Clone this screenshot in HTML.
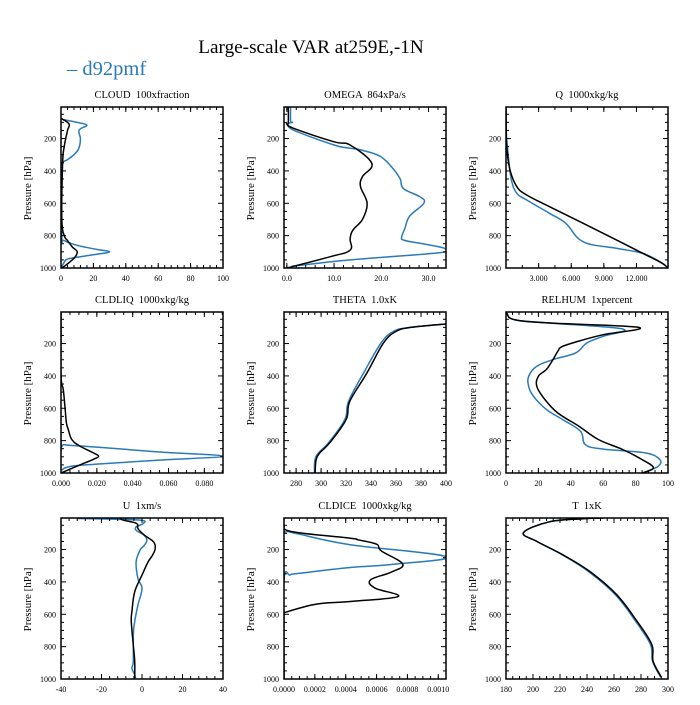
<!DOCTYPE html>
<html><head><meta charset="utf-8">
<style>
html,body{margin:0;padding:0;background:#fff;}
svg text{font-family:"Liberation Serif",serif;white-space:pre;}
</style></head>
<body>
<svg id="chart" width="700" height="700" viewBox="0 0 700 700" xmlns="http://www.w3.org/2000/svg" xml:space="preserve">
<rect x="0" y="0" width="700" height="700" fill="#fff"/>
<defs id="defs"></defs>
<text x="311" y="53" font-size="19.2" text-anchor="middle" fill="#000">Large-scale VAR at259E,-1N</text>
<text x="67" y="75" font-size="20.5" fill="#2a7ab8">– d92pmf</text>
<g id="panels"></g>
</svg>
<script>
// ---- data (pressure levels [hPa] and values) ----
const cloudBlueP=[80,100,117,140,160,200,260,300,330,350,400,800,830,860,885,900,915,930,945,965,1000];
const cloudBlueV=[0,10,16,12,11,12,11,8,4,1,0.5,0.5,2,10,22,30,22,12,4,2,0];
const cloudBlackP=[75,110,150,250,350,700,800,830,870,900,940,990,1000];
const cloudBlackV=[0,5,4,2,1,0.5,2,4,7,10,8,2,0];

const omegaBlueP=[5,90,100,110,150,240,260,270,310,390,450,510,560,600,680,755,810,830,855,880,905,950,990];
const omegaBlueV=[0.8,0.8,1.2,0.3,1.6,10,13.4,15.6,19.8,22.6,24,24.7,28.2,29,26,25,24.3,25,29.7,33.5,32.5,13.4,1];
const omegaBlackP=[5,100,110,137,220,240,353,436,497,600,700,765,820,890,930,1000];
const omegaBlackV=[0.3,0.3,0,1.5,10,13.4,18,16,15.6,17,16,14,13.4,13.4,9.2,0];

const qBlueP=[5,150,300,456,539,580,662,724,838,879,910,968,1000];
const qBlueV=[0,0.02,0.2,0.5,1.0,1.9,4.0,5.5,7.1,10.2,12.6,14.3,14.9];
const qBlackP=[5,150,250,395,498,549,621,724,828,910,968,1000];
const qBlackV=[0,0.02,0.06,0.37,1.0,1.9,4.0,7.1,10.2,12.6,14.3,14.9];

const liqBlueP=[5,810,825,840,870,896,920,945,960,985,1000];
const liqBlueV=[0,0,0.002,0.02,0.055,0.09,0.055,0.02,0.005,0,0];
const liqBlackP=[5,392,485,588,690,732,793,834,875,896,916,937,968,995,1000];
const liqBlackV=[0,0,0.0013,0.0022,0.003,0.0041,0.006,0.0106,0.018,0.021,0.018,0.0134,0.0067,0.001,0];

const thetaBlueP=[79,100,125,196,382,557,670,813,875,920,1000];
const thetaBlueV=[400,371,358,348,334,322,319,306,298,295,294.8];
const thetaBlackP=[79,100,125,196,382,557,670,813,875,920,1000];
const thetaBlackV=[400,372,360,350,336.7,323,320,307,299,296,295.2];

const rhBlueP=[11,52,73,110,155,196,258,299,340,402,464,526,608,670,742,825,852,876,917,958,990];
const rhBlueV=[0.5,5,27,72,60,50,43,29,19,14,14,17,25,35,46,49,60,86,95,94,87];
const rhBlackP=[11,52,73,100,145,176,217,248,299,360,402,464,546,629,711,793,855,917,968,1000];
const rhBlackV=[0.5,5,27,82,60,48,35,32,29,25,20,19,24,32,45,57,72,84,91,84];

const uBlueP=[8,12,20,40,60,81,111,142,173,204,276,379,440,543,646,728,892,933,974,995];
const uBlueV=[-32,-15,0,0.5,-2.9,-2.9,1,2.4,1.2,-1,-2.9,-2,0,-2,-3.6,-4.3,-4.3,-5,-3.6,-3.2];
const uBlackP=[8,19,39,70,111,152,194,235,276,358,461,584,646,790,892,995];
const uBlackV=[-10.9,-9,-2.6,-2,1.2,5.7,6.5,5.2,3,0,-3.6,-5,-5.3,-4.3,-3.6,-3.6];

const iceBlueP=[5,85,89,105,170,244,291,311,347,357,398,1000];
const iceBlueV=[0,0,0.00003,0.0001,0.00043,0.00105,0.00071,0.00043,0.0001,0.00004,0,0];
const iceBlackP=[5,48,89,130,140,167,208,290,341,388,438,490,521,537,588,600,1000];
const iceBlackV=[0,0,0.00005,0.00043,0.00048,0.0006,0.00063,0.00077,0.00069,0.00056,0.00059,0.00074,0.00043,0.00021,0.00001,0,0];

const tBlueP=[5,10,28,95,150,232,335,479,643,787,890,988];
const tBlueV=[252,237,212.5,193,203,221.5,241,261,276,287,288.5,294.5];
const tBlackP=[5,10,28,95,150,232,335,479,643,787,890,988];
const tBlackV=[252,237,212.5,193,203,222,242,262,277,288,289,295];

// x-axis settings per panel: tick values, tick labels
const cloudTicks=[0,20,40,60,80,100], cloudLabels=["0","20","40","60","80","100"];
const omegaTicks=[0,10,20,30], omegaLabels=["0.0","10.0","20.0","30.0"];
const qTicks=[3,6,9,12], qLabels=["3.000","6.000","9.000","12.000"];
const liqTicks=[0,0.02,0.04,0.06,0.08], liqLabels=["0.000","0.020","0.040","0.060","0.080"];
const thetaTicks=[280,300,320,340,360,380,400], thetaLabels=["280","300","320","340","360","380","400"];
const rhTicks=[0,20,40,60,80,100], rhLabels=["0","20","40","60","80","100"];
const uTicks=[-40,-20,0,20,40], uLabels=["-40","-20","0","20","40"];
const iceTicks=[0,0.0002,0.0004,0.0006,0.0008,0.0010], iceLabels=["0.0000","0.0002","0.0004","0.0006","0.0008","0.0010"];
const tTicks=[180,200,220,240,260,280,300], tLabels=["180","200","220","240","260","280","300"];

const panels=[
 {name:"cloud",title:"CLOUD  100xfraction",col:0,row:0,xmin:0,xmax:100,ticks:cloudTicks,labels:cloudLabels,minor:4,bp:cloudBlueP,bv:cloudBlueV,kp:cloudBlackP,kv:cloudBlackV},
 {name:"omega",title:"OMEGA  864xPa/s",col:1,row:0,xmin:-0.6,xmax:33.7,ticks:omegaTicks,labels:omegaLabels,minor:2,bp:omegaBlueP,bv:omegaBlueV,kp:omegaBlackP,kv:omegaBlackV},
 {name:"q",title:"Q  1000xkg/kg",col:2,row:0,xmin:0,xmax:14.9,ticks:qTicks,labels:qLabels,minor:1.5,bp:qBlueP,bv:qBlueV,kp:qBlackP,kv:qBlackV},
 {name:"cldliq",title:"CLDLIQ  1000xkg/kg",col:0,row:1,xmin:0,xmax:0.0904,ticks:liqTicks,labels:liqLabels,minor:0.005,bp:liqBlueP,bv:liqBlueV,kp:liqBlackP,kv:liqBlackV},
 {name:"theta",title:"THETA  1.0xK",col:1,row:1,xmin:270.3,xmax:400,ticks:thetaTicks,labels:thetaLabels,minor:5,bp:thetaBlueP,bv:thetaBlueV,kp:thetaBlackP,kv:thetaBlackV},
 {name:"relhum",title:"RELHUM  1xpercent",col:2,row:1,xmin:0,xmax:100,ticks:rhTicks,labels:rhLabels,minor:4,bp:rhBlueP,bv:rhBlueV,kp:rhBlackP,kv:rhBlackV},
 {name:"u",title:"U  1xm/s",col:0,row:2,xmin:-40,xmax:40,ticks:uTicks,labels:uLabels,minor:4,bp:uBlueP,bv:uBlueV,kp:uBlackP,kv:uBlackV},
 {name:"cldice",title:"CLDICE  1000xkg/kg",col:1,row:2,xmin:0,xmax:0.00105,ticks:iceTicks,labels:iceLabels,minor:0.00005,bp:iceBlueP,bv:iceBlueV,kp:iceBlackP,kv:iceBlackV},
 {name:"t",title:"T  1xK",col:2,row:2,xmin:180,xmax:300,ticks:tTicks,labels:tLabels,minor:5,bp:tBlueP,bv:tBlueV,kp:tBlackP,kv:tBlackV}
];

const NS="http://www.w3.org/2000/svg";
const colX=[61,284,506], rowY=[107,312,518], W=162, H=161;
const PTOP=5, PBOT=1000;
const root=document.getElementById('panels');
const defs=document.getElementById('defs');
function mk(tag,attrs,parent){const e=document.createElementNS(NS,tag);for(const k in attrs)e.setAttribute(k,attrs[k]);(parent||root).appendChild(e);return e;}
function smoothPath(pts){
  let d='M'+pts[0][0].toFixed(1)+','+pts[0][1].toFixed(1);
  const k=0.18;
  for(let i=0;i<pts.length-1;i++){
    const p0=pts[i-1]||pts[i], p1=pts[i], p2=pts[i+1], p3=pts[i+2]||p2;
    const c1=[p1[0]+(p2[0]-p0[0])*k, p1[1]+(p2[1]-p0[1])*k];
    const c2=[p2[0]-(p3[0]-p1[0])*k, p2[1]-(p3[1]-p1[1])*k];
    d+=' C'+c1.map(v=>v.toFixed(1)).join(',')+' '+c2.map(v=>v.toFixed(1)).join(',')+' '+p2.map(v=>v.toFixed(1)).join(',');
  }
  return d;
}

panels.forEach(pn=>{
  const x0=colX[pn.col], y0=rowY[pn.row];
  const sx=v=>x0+(v-pn.xmin)/(pn.xmax-pn.xmin)*W;
  const sy=p=>y0+(p-PTOP)/(PBOT-PTOP)*H;
  const cp=mk('clipPath',{id:'clip-'+pn.name},defs);
  mk('rect',{x:x0,y:y0,width:W,height:H},cp);
  const g=mk('g',{});
  
  
  const t=mk('text',{x:x0+W/2,y:y0-9,'font-size':'10.5','text-anchor':'middle',fill:'#000'},g);
  t.textContent=pn.title;
  
  
  const yl=mk('text',{x:0,y:0,'font-size':'11','text-anchor':'middle',fill:'#000',transform:`translate(${x0-30},${y0+H/2+1}) rotate(-90)`},g);
  yl.textContent='Pressure [hPa]';
  
  
  const sg=mk('g',{'clip-path':'url(#clip-'+pn.name+')'},g);
  // series
  [[pn.bp,pn.bv,'#2a7ab8','model'],[pn.kp,pn.kv,'#000','obs']].forEach(s=>{
    const pts=s[0].map((p,i)=>[sx(s[1][i]),sy(p)]);
    const pl=mk('path',{d:smoothPath(pts),fill:'none',stroke:s[2],'stroke-width':'1.5','stroke-linejoin':'round'},sg);
    
    
  });
  // y ticks
  for(let p=50;p<=1000;p+=50){
    const y=sy(p), L=(p%200===0)?5:3;
    mk('line',{x1:x0,x2:x0+L,y1:y,y2:y,stroke:'#000','stroke-width':'1'},g);
    mk('line',{x1:x0+W,x2:x0+W-L,y1:y,y2:y,stroke:'#000','stroke-width':'1'},g);
    if(p%200===0){
      const lb=mk('text',{x:x0-5,y:y+3,'font-size':'8','text-anchor':'end',fill:'#000'},g);
      lb.textContent=String(p);
      
      
    }
  }
  // x minor ticks
  const start=Math.ceil((pn.xmin-1e-12)/pn.minor);
  for(let k=start;k*pn.minor<=pn.xmax+1e-12;k++){
    const x=sx(k*pn.minor);
    mk('line',{x1:x,x2:x,y1:y0+H,y2:y0+H-3,stroke:'#000','stroke-width':'1'},g);
    mk('line',{x1:x,x2:x,y1:y0,y2:y0+3,stroke:'#000','stroke-width':'1'},g);
  }
  pn.ticks.forEach((v,i)=>{
    const x=sx(v);
    mk('line',{x1:x,x2:x,y1:y0+H,y2:y0+H-5,stroke:'#000','stroke-width':'1'},g);
    mk('line',{x1:x,x2:x,y1:y0,y2:y0+5,stroke:'#000','stroke-width':'1'},g);
    const lb=mk('text',{x:x,y:y0+H+13,'font-size':'8','text-anchor':'middle',fill:'#000'},g);
    lb.textContent=pn.labels[i];
    
    
  });
  const fr=mk('rect',{x:x0,y:y0,width:W,height:H,fill:'none',stroke:'#000','stroke-width':'1.5'},g);
  
  
});
</script>
</body></html>
